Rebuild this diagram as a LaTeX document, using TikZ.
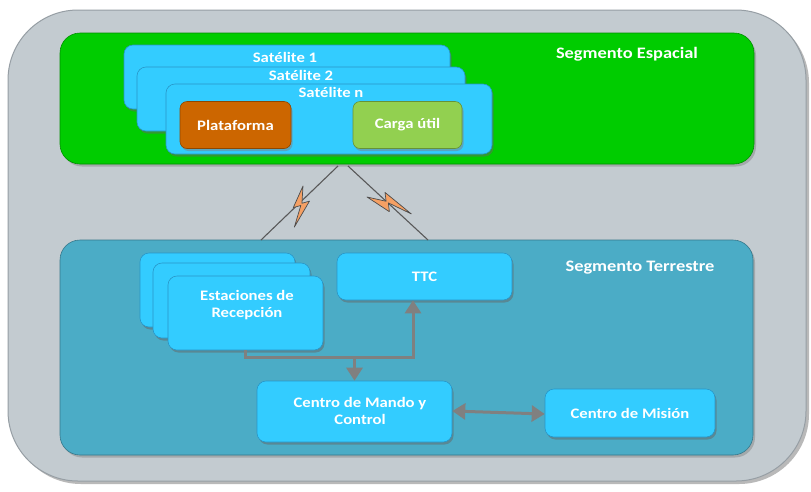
\documentclass[tikz,border=0pt]{standalone}
\usepackage{fontspec}
\setmainfont{Carlito}
\usetikzlibrary{arrows.meta,shadows,calc}
\definecolor{outergray}{RGB}{195,203,208}
\definecolor{outerline}{RGB}{150,158,164}
\definecolor{seggreen}{RGB}{0,204,0}
\definecolor{segteal}{RGB}{75,172,198}
\definecolor{boxblue}{RGB}{51,204,255}
\definecolor{boxline}{RGB}{40,150,200}
\definecolor{platorange}{RGB}{204,102,0}
\definecolor{cargagreen}{RGB}{146,208,80}
\definecolor{arrgray}{RGB}{128,128,128}
\definecolor{boltfill}{RGB}{245,160,100}
\newcommand{\widetxt}[1]{\scalebox{1.15}[1]{#1}}
\tikzset{
  txt/.style={text=white,font=\bfseries\fontsize{14.5}{16.5}\selectfont,align=center,inner sep=0},
  segtxt/.style={text=white,font=\bfseries\fontsize{16}{18}\selectfont,inner sep=0},
  bluebox/.style={draw=boxline,line width=0.6pt,fill=boxblue,rounded corners=9pt,
     drop shadow={shadow xshift=1.5pt,shadow yshift=-2.5pt,opacity=0.5,fill=black!60}},
  arr/.style={draw=arrgray,line width=3pt,-{Triangle[length=13pt,width=16pt]}},
  darr/.style={draw=arrgray,line width=3pt,{Triangle[length=13pt,width=16pt]}-{Triangle[length=13pt,width=16pt]}},
  link/.style={draw=black!65,line width=1.1pt},
  bolt/.style={fill=boltfill,draw=black!70,line width=0.7pt,line join=round}
}
\newcommand{\boltshape}{(0,0) -- (-9,20) -- (-2,18) -- (-8,38) -- (6,14) -- (-1,16) -- cycle}
\begin{document}
\begin{tikzpicture}[x=1pt,y=-1pt]
\useasboundingbox (0,0) rectangle (811,491);
\fill[white] (0,0) rectangle (811,491);
% outer panel
\path[fill=outergray,draw=outerline,line width=1pt,rounded corners=70pt,
  drop shadow={shadow xshift=3pt,shadow yshift=-3pt,opacity=0.55}]
  (8,10) rectangle (806,481);
% space segment
\node[draw=seggreen!70!black,line width=0.6pt,fill=seggreen,rounded corners=20pt,
  minimum width=694pt,minimum height=131pt,
  drop shadow={shadow xshift=2pt,shadow yshift=-2.5pt,opacity=0.45}]
  (esp) at (407,98.5) {};
\node[segtxt] (esplbl) at (627,54) {\widetxt{Segmento Espacial}};
% satellites
\node[bluebox,minimum width=326pt,minimum height=64pt] (sat1) at (287,77) {};
\node[txt] (sat1lbl) at (285,57) {\widetxt{Satélite 1}};
\node[bluebox,minimum width=328pt,minimum height=64pt] (sat2) at (301,99) {};
\node[txt] (sat2lbl) at (301,75) {\widetxt{Satélite 2}};
\node[bluebox,minimum width=326pt,minimum height=70pt] (satn) at (329,119) {};
\node[txt] (satnlbl) at (331,92) {\widetxt{Satélite n}};
\node[draw=platorange!70!black,line width=0.6pt,fill=platorange,rounded corners=7pt,
  minimum width=111pt,minimum height=47pt,txt,
  drop shadow={shadow xshift=1.5pt,shadow yshift=-2.5pt,opacity=0.5}]
  (plat) at (235.5,125) {\widetxt{Plataforma}};
\node[draw=cargagreen!70!black,line width=0.6pt,fill=cargagreen,rounded corners=7pt,
  minimum width=109pt,minimum height=47pt,txt,
  drop shadow={shadow xshift=1.5pt,shadow yshift=-2.5pt,opacity=0.5}]
  (carga) at (407.5,125) {\widetxt{Carga útil}};
% ground segment
\node[draw=segteal!70!black,line width=0.6pt,fill=segteal,rounded corners=20pt,
  minimum width=693pt,minimum height=215pt,
  drop shadow={shadow xshift=2pt,shadow yshift=-2.5pt,opacity=0.45}]
  (ter) at (406.5,347.5) {};
\node[segtxt] (terlbl) at (640,268) {\widetxt{Segmento Terrestre}};
% stations
\node[bluebox,minimum width=155pt,minimum height=74pt] (est1) at (217.5,290) {};
\node[bluebox,minimum width=157pt,minimum height=75pt] (est2) at (231.5,300.5) {};
\node[bluebox,minimum width=155pt,minimum height=74pt] (est3) at (245.5,313) {};
\node[txt] (estlbl) at (247,305) {\widetxt{Estaciones de}\\[1pt]\widetxt{Recepción}};
\node[bluebox,minimum width=175pt,minimum height=47pt,txt] (ttc) at (424.5,276.5) {\widetxt{TTC}};
\node[bluebox,minimum width=195pt,minimum height=61pt] (cmc) at (354.5,411.5) {};
\node[txt] (cmclbl) at (360,411) {\widetxt{Centro de Mando y}\\[1pt]\widetxt{Control}};
\node[bluebox,minimum width=170pt,minimum height=48pt,txt] (cm) at (630,413) {\widetxt{Centro de Misión}};
% radio links
\coordinate (la) at (338,166);
\coordinate (lb) at (261,240);
\coordinate (ra) at (348,166);
\coordinate (rb) at (428,240);
\draw[link] (la) -- (lb);
\draw[link] (ra) -- (rb);
\begin{scope}[shift={(303,186)},scale=1.08]
  \draw[bolt] \boltshape;
\end{scope}
\begin{scope}[shift={(367,197)},rotate=81,scale=1.22]
  \draw[bolt] \boltshape;
\end{scope}
% connectors
\coordinate (jr) at (413,357);
\draw[arr] (est3.south) |- (jr) -- (jr |- ttc.south);
\draw[arr] (cmc.north |- jr) -- (cmc.north);
\draw[darr] ([yshift=0.5pt]cmc.east) -- ([yshift=-1pt]cm.west);
\end{tikzpicture}
\end{document}
